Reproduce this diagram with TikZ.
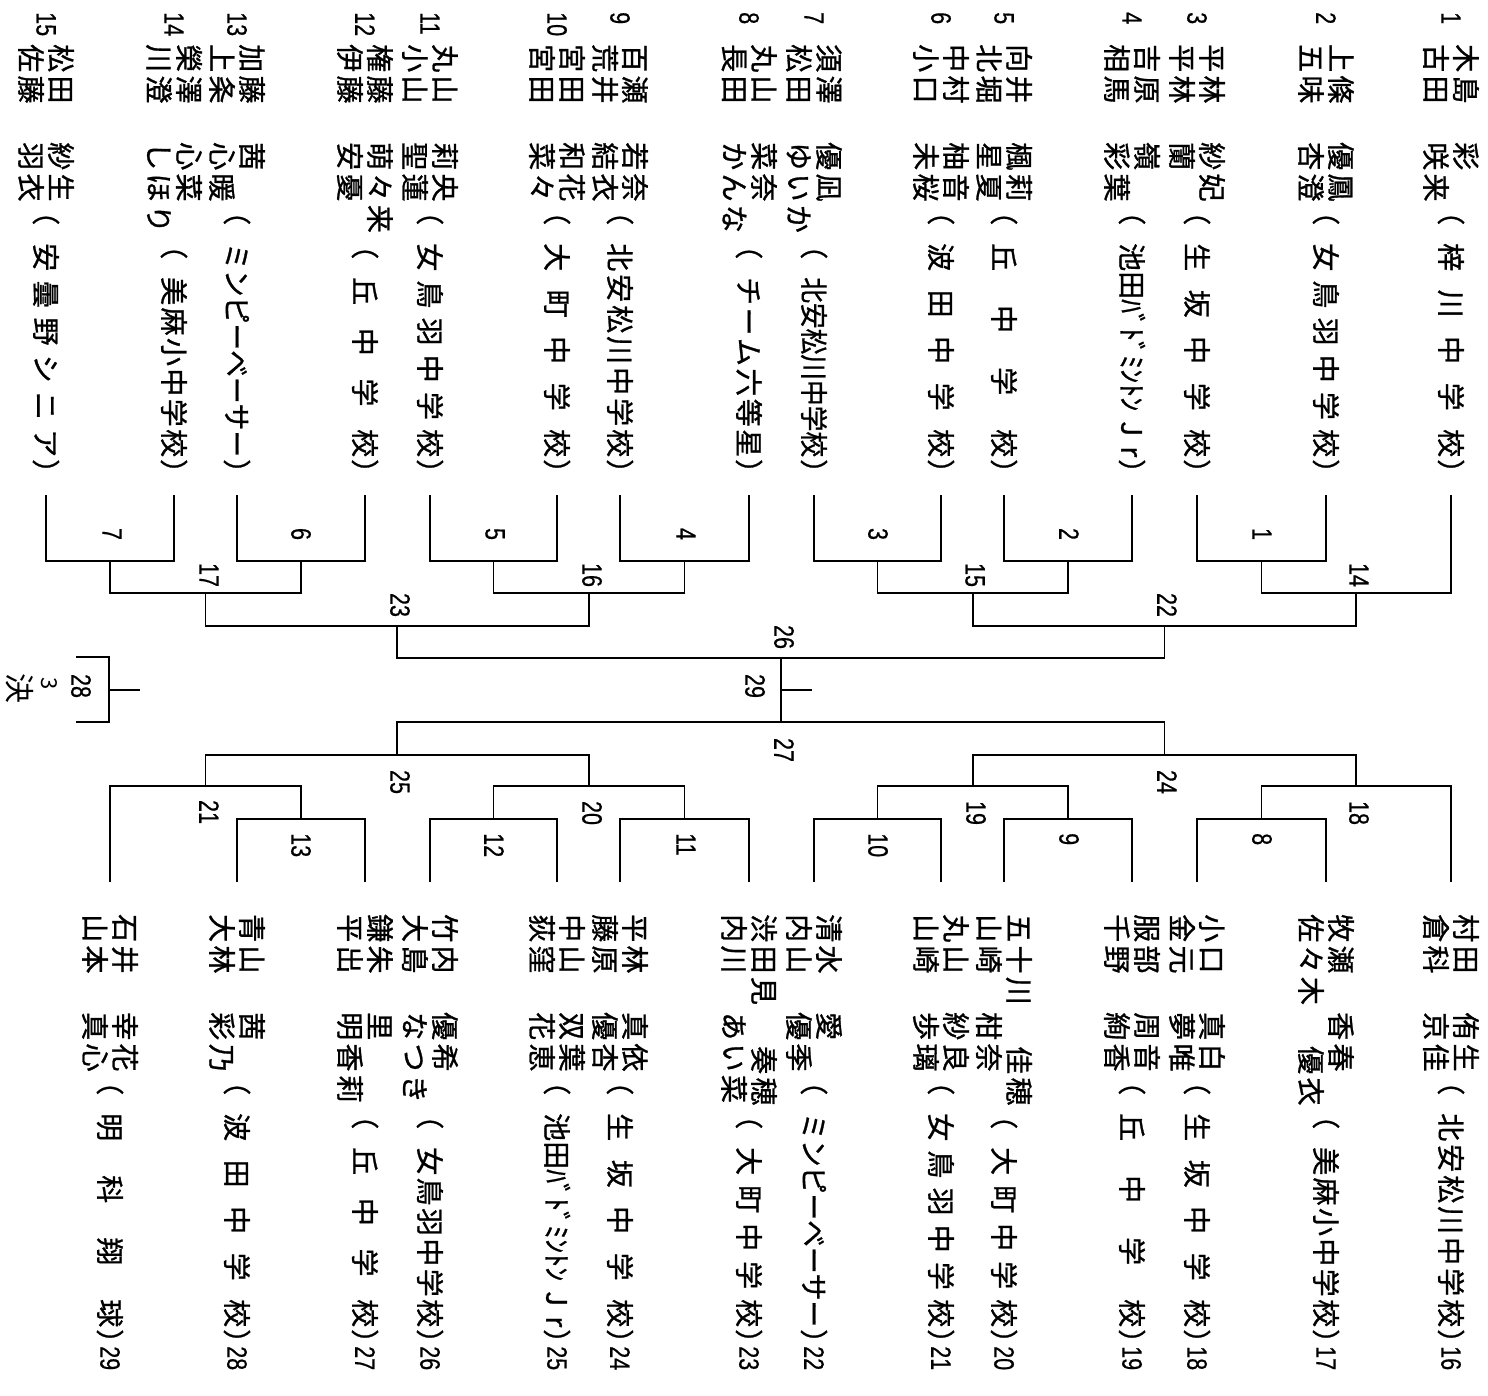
\documentclass[tikz,border=0pt]{standalone}
\usepackage{fontspec}
\usepackage{graphicx}
\newfontfamily\jp[LetterSpace=12,FakeBold=1]{Noto Sans CJK JP}
\newfontfamily\jpa[FakeBold=1]{Noto Sans CJK JP}
\newfontfamily\jph{Noto Sans CJK JP}
\newfontfamily\dgf[FakeBold=0.6]{Liberation Sans}
\newsavebox\affbox
\newsavebox\surbox
% surname + given name, given name at a fixed offset
\newcommand\pl[2]{\sbox\surbox{#1}\ifdim\wd\surbox>80pt\relax\hbox to 132pt{\usebox\surbox\hfil}\else\hbox to 98pt{\usebox\surbox\hfil}\fi#2}
% spread characters
\def\sprend{SPR}
\def\spr#1{\sprloop#1\sprend}
\def\sprloop#1#2{#1\ifx\sprend#2\else\hfill\expandafter\sprloop\expandafter#2\fi}
\newcommand\affin[2]{\sbox\affbox{#2}\ifdim\wd\affbox>#1\relax\resizebox{#1}{\height}{\usebox\affbox}\else\hbox to #1{#2}\fi}
\newcommand\aff[2]{\ifnum#1=213 \def\affw{214pt}\else\def\affw{180pt}\fi\hbox{（\kern18pt\affin{\affw}{#2}\kern2pt）}}
\newcommand\dg[1]{\scalebox{0.77}[1]{#1}}
\newcommand\entryT[8]{%
 \node[numtxt] (n#1) at (#2,12) {\dg{#1}};
 \node[nm] (p#1a) at (#2+15,44) {\pl{#3}{#4}};
 \node[nm] (p#1b) at (#2-15,44) {\pl{#5}{#6}};
 \node[af] (a#1) at (#2,#7-16) {\aff{#7}{#8}};}
\newcommand\entryB[8]{%
 \node[nm] (p#1a) at (#2+15,914) {\pl{#3}{#4}};
 \node[nm] (p#1b) at (#2-15,914) {\pl{#5}{#6}};
 \node[af] (a#1) at (#2,#7+854) {\aff{#7}{#8}};
 \node[numtxt] (n#1) at (#2,1346) {\dg{#1}};}
\begin{document}
\begin{tikzpicture}[x=1pt,y=-1pt,
  nm/.style={rotate=-90,anchor=west,inner sep=0pt,font=\jp\fontsize{28pt}{28pt}\selectfont},
  af/.style={rotate=-90,anchor=west,inner sep=0pt,font=\jpa\fontsize{28pt}{28pt}\selectfont},
  numtxt/.style={rotate=-90,anchor=west,inner sep=0pt,font=\dgf\fontsize{28pt}{28pt}\selectfont},
  lab/.style={rotate=-90,inner sep=0pt,font=\dgf\fontsize{28pt}{28pt}\selectfont},
  labw/.style={lab,anchor=west},
  hand/.style={rotate=-90,inner sep=0pt,font=\jph\fontsize{#1}{#1}\selectfont},
  ln/.style={line width=1.8pt,line join=miter}]
\useasboundingbox (0,0) rectangle (1488,1396);
\fill[white] (0,0) rectangle (1488,1396);
% ---------- entries, upper half ----------
\entryT{1}{1451}{木島}{彩}{古田}{咲来}{213}{\spr{梓川中学校}}
\entryT{2}{1326}{上條}{優鳳}{五味}{杏澄}{213}{\spr{女鳥羽中学校}}
\entryT{3}{1197}{平林}{紗妃}{平林}{蘭}{213}{\spr{生坂中学校}}
\entryT{4}{1132}{吉原}{嶺}{相馬}{彩葉}{213}{池田ﾊﾞﾄﾞﾐﾝﾄﾝ\hfill J\hfill r}
\entryT{5}{1004}{向井}{楓莉}{北堀}{星夏}{213}{\spr{丘中学校}}
\entryT{6}{941}{中村}{柚音}{小口}{未桜}{213}{\spr{波田中学校}}
\entryT{7}{814}{須澤}{優凪}{松田}{ゆいか}{247}{\spr{北安松川中学校}}
\entryT{8}{749}{丸山}{菜奈}{長田}{かんな}{247}{\spr{チーム六等星}}
\entryT{9}{620}{百瀬}{若奈}{荒井}{結衣}{213}{\spr{北安松川中学校}}
\entryT{10}{557}{宮田}{和花}{宮田}{菜々}{213}{\spr{大町中学校}}
\entryT{11}{430}{丸山}{莉央}{小山}{聖蓮}{213}{\spr{女鳥羽中学校}}
\entryT{12}{365}{権藤}{萌々来}{伊藤}{安憂}{247}{\spr{丘中学校}}
\entryT{13}{237}{加藤}{茜}{上条}{心暖}{213}{\spr{ミンピーベーサー}}
\entryT{14}{174}{榮澤}{心菜}{川澄}{しほり}{247}{\spr{美麻小中学校}}
\entryT{15}{46}{松田}{紗生}{佐藤}{羽衣}{213}{\spr{安曇野シニア}}
% ---------- entries, lower half ----------
\entryB{16}{1451}{村田}{侑生}{倉科}{京佳}{213}{\spr{北安松川中学校}}
\entryB{17}{1326}{牧瀬}{香春}{佐々木}{優衣}{247}{\spr{美麻小中学校}}
\entryB{18}{1197}{小口}{真白}{金元}{夢唯}{213}{\spr{生坂中学校}}
\entryB{19}{1132}{服部}{周音}{千野}{絢香}{213}{\spr{丘中学校}}
\entryB{20}{1004}{五十川}{佳穂}{山崎}{柑奈}{247}{\spr{大町中学校}}
\entryB{21}{941}{丸山}{紗良}{山崎}{歩璃}{213}{\spr{女鳥羽中学校}}
\entryB{22}{814}{清水}{愛}{内山}{優季}{213}{\spr{ミンピーベーサー}}
\entryB{23}{749}{渋田見}{奏穂}{内川}{あい菜}{247}{\spr{大町中学校}}
\entryB{24}{620}{平林}{真依}{藤原}{優杏}{213}{\spr{生坂中学校}}
\entryB{25}{557}{中山}{双葉}{荻窪}{花恵}{213}{池田ﾊﾞﾄﾞﾐﾝﾄﾝ\hfill J\hfill r}
\entryB{26}{430}{竹内}{優希}{大島}{なつき}{247}{\spr{女鳥羽中学校}}
\entryB{27}{365}{鎌朱}{里}{平出}{明香莉}{247}{\spr{丘中学校}}
\entryB{28}{237}{青山}{茜}{大林}{彩乃}{213}{\spr{波田中学校}}
\entryB{29}{110}{石井}{幸花}{山本}{真心}{213}{\spr{明科翔球}}
% ---------- bracket coordinates ----------
\coordinate (t1) at (1451,495); \coordinate (t2) at (1326,495); \coordinate (t3) at (1197,495);
\coordinate (t4) at (1132,495); \coordinate (t5) at (1004,495); \coordinate (t6) at (941,495);
\coordinate (t7) at (814,495);  \coordinate (t8) at (749,495);  \coordinate (t9) at (620,495);
\coordinate (t10) at (557,495); \coordinate (t11) at (430,495); \coordinate (t12) at (365,495);
\coordinate (t13) at (237,495); \coordinate (t14) at (174,495); \coordinate (t15) at (46,495);
\coordinate (b16) at (1451,882); \coordinate (b17) at (1326,882); \coordinate (b18) at (1197,882);
\coordinate (b19) at (1132,882); \coordinate (b20) at (1004,882); \coordinate (b21) at (941,882);
\coordinate (b22) at (814,882);  \coordinate (b23) at (749,882);  \coordinate (b24) at (620,882);
\coordinate (b25) at (557,882);  \coordinate (b26) at (430,882);  \coordinate (b27) at (365,882);
\coordinate (b28) at (237,882);  \coordinate (b29) at (110,882);
\coordinate (m1) at (1261.5,561); \coordinate (m2) at (1068,561); \coordinate (m3) at (877.5,561);
\coordinate (m4) at (684.5,561);  \coordinate (m5) at (493.5,561); \coordinate (m6) at (301,561);
\coordinate (m7) at (110,561);
\coordinate (m14) at (1356.25,593); \coordinate (m15) at (972.75,593);
\coordinate (m16) at (589,593);     \coordinate (m17) at (205.5,593);
\coordinate (m22) at (1164.5,626);  \coordinate (m23) at (397.25,626);
\coordinate (m26) at (780.9,658);
\coordinate (m8) at (1261.5,819); \coordinate (m9) at (1068,819); \coordinate (m10) at (877.5,819);
\coordinate (m11) at (684.5,819); \coordinate (m12) at (493.5,819); \coordinate (m13) at (301,819);
\coordinate (m18) at (1356.25,786); \coordinate (m19) at (972.75,786);
\coordinate (m20) at (589,786);     \coordinate (m21) at (205.5,786);
\coordinate (m24) at (1164.5,755);  \coordinate (m25) at (397.25,755);
\coordinate (m27) at (780.9,722);
\coordinate (fin) at (812,690);
\coordinate (q1) at (76,657); \coordinate (q2) at (76,722);
\coordinate (m28) at (109,690); \coordinate (q3) at (140,690);
% ---------- bracket lines, upper half ----------
\draw[ln] (t2) |- (m1) -| (t3);
\draw[ln] (t4) |- (m2) -| (t5);
\draw[ln] (t6) |- (m3) -| (t7);
\draw[ln] (t8) |- (m4) -| (t9);
\draw[ln] (t10) |- (m5) -| (t11);
\draw[ln] (t12) |- (m6) -| (t13);
\draw[ln] (t14) |- (m7) -| (t15);
\draw[ln] (m1) |- (m14) -| (t1);
\draw[ln] (m3) |- (m15) -| (m2);
\draw[ln] (m5) |- (m16) -| (m4);
\draw[ln] (m7) |- (m17) -| (m6);
\draw[ln] (m15) |- (m22) -| (m14);
\draw[ln] (m17) |- (m23) -| (m16);
\draw[ln] (m23) |- (m26) -| (m22);
\draw[ln] (m26) -- (m27);
\draw[ln] (m26 |- fin) -- (fin);
% ---------- bracket lines, lower half ----------
\draw[ln] (b17) |- (m8) -| (b18);
\draw[ln] (b19) |- (m9) -| (b20);
\draw[ln] (b21) |- (m10) -| (b22);
\draw[ln] (b23) |- (m11) -| (b24);
\draw[ln] (b25) |- (m12) -| (b26);
\draw[ln] (b27) |- (m13) -| (b28);
\draw[ln] (m8) |- (m18) -| (b16);
\draw[ln] (m10) |- (m19) -| (m9);
\draw[ln] (m12) |- (m20) -| (m11);
\draw[ln] (b29) |- (m21) -| (m13);
\draw[ln] (m19) |- (m24) -| (m18);
\draw[ln] (m21) |- (m25) -| (m20);
\draw[ln] (m25) |- (m27) -| (m24);
% ---------- third place ----------
\draw[ln] (q1) -| (m28) |- (q2);
\draw[ln] (m28) -- (q3);
% ---------- match numbers ----------
\node[lab] (L1) at (1262,534) {\dg{1}};
\node[lab] (L2) at (1069,534) {\dg{2}};
\node[lab] (L3) at (878,534) {\dg{3}};
\node[lab] (L4) at (686,534) {\dg{4}};
\node[lab] (L5) at (495,534) {\dg{5}};
\node[lab] (L6) at (301,534) {\dg{6}};
\node[lab] (L7) at (112,534) {\dg{7}};
\node[lab] (L14) at (1359,575) {\dg{14}};
\node[lab] (L15) at (975,575) {\dg{15}};
\node[lab] (L16) at (592,575) {\dg{16}};
\node[lab] (L17) at (209,575) {\dg{17}};
\node[lab] (L22) at (1167,605) {\dg{22}};
\node[lab] (L23) at (400,605) {\dg{23}};
\node[lab] (L26) at (784,637) {\dg{26}};
\node[lab] (L29) at (755,686) {\dg{29}};
\node[lab] (L27) at (784,750) {\dg{27}};
\node[lab] (L28) at (81,686) {\dg{28}};
\node[lab] (L24) at (1167,782) {\dg{24}};
\node[lab] (L25) at (400,782) {\dg{25}};
\node[lab] (L18) at (1359,813) {\dg{18}};
\node[lab] (L19) at (976,813) {\dg{19}};
\node[lab] (L20) at (592,813) {\dg{20}};
\node[lab] (L21) at (209,812) {\dg{21}};
\node[labw] (L8) at (1262,833) {\dg{8}};
\node[labw] (L9) at (1069,833) {\dg{9}};
\node[labw] (L10) at (878,833) {\dg{10}};
\node[labw] (L11) at (686,833) {\dg{11}};
\node[labw] (L12) at (494,833) {\dg{12}};
\node[labw] (L13) at (301,833) {\dg{13}};
% ---------- handwritten note ----------
\node[hand=22pt] (h3) at (49,684) {3};
\node[hand=30pt] (hk) at (20,688) {決};
\end{tikzpicture}
\end{document}
